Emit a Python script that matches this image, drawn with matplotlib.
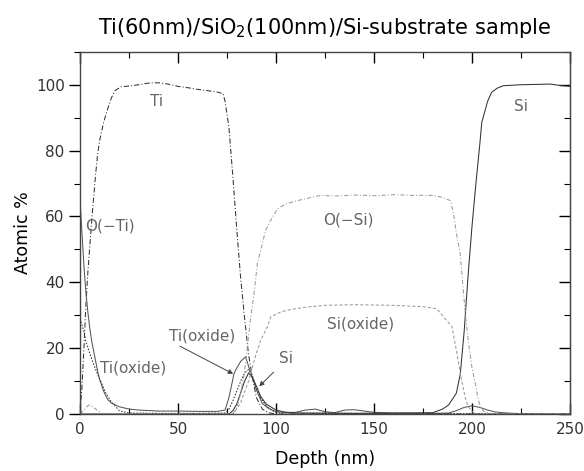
import numpy as np
import matplotlib
matplotlib.use("Agg")
import matplotlib.pyplot as plt
from matplotlib.ticker import MultipleLocator

plt.rcParams["font.family"] = ["DejaVu Sans"]

# depth profiles (depth in nm, atomic %)
ti_x = [0, 1, 2, 3, 4, 5, 6, 7, 8, 9, 10, 12, 14, 16, 18, 21, 25, 30, 35, 40, 45, 50, 55, 60, 65,
        70, 73, 74, 76, 78, 80, 82, 84, 86, 88, 90, 93, 96, 100, 250]
ti_y = [1, 8, 20, 33, 43, 51, 59, 66, 73, 79, 83, 88.5, 92.5, 96, 98.3, 99.4, 99.6, 100, 100.5,
        100.6, 100.2, 99.5, 99.1, 98.6, 98.2, 97.8, 97.3, 95, 87, 72, 56, 41, 29, 18, 11, 5,
        1.5, 0.4, 0, 0]

oti_x = [0, 1, 2, 3, 4, 5, 6, 7, 8, 9, 10, 12, 14, 16, 20, 25, 30, 40, 50, 60, 70, 74, 76, 78.6,
         80, 82, 84.5, 86, 88, 90, 93, 96, 100, 105, 110, 115, 120, 125, 130, 135, 140, 150, 160,
         170, 180, 188, 192, 196, 200, 204, 208, 212, 218, 225, 250]
oti_y = [65, 55, 45, 37, 31, 26, 22, 19, 16, 13, 10.5, 7, 4.5, 3.3, 2.2, 1.5, 1.2, 0.9, 0.9, 0.8,
         0.8, 1.2, 5, 12.3, 14, 16, 17.4, 14.5, 11, 7.3, 3.2, 1.8, 0.7, 0.5, 0.5, 1.2, 1.5, 0.7,
         0.4, 1.2, 1.3, 0.5, 0.3, 0.3, 0.2, 0.3, 1, 2, 2.5, 2, 1.2, 0.6, 0.3, 0.1, 0]

tiox_x = [0, 1, 2, 3, 5, 7, 9, 11, 13, 16, 20, 25, 40, 60, 74, 76, 78, 80, 82, 84, 86, 88, 90,
          92, 95, 98, 102, 250]
tiox_y = [29, 27, 25, 22, 18.4, 15, 12, 9.4, 6.5, 3.7, 1, 0.3, 0.2, 0.2, 0.3, 1.5, 4, 7, 10,
          12.5, 13.5, 11.5, 8, 5, 2.5, 1, 0.3, 0]

si_x = [0, 20, 60, 76, 78, 80, 82, 84, 86, 88, 90.5, 92, 95, 100, 105, 110,
        140, 170, 180, 185, 188, 192, 194, 196, 198, 200, 202, 204, 205, 208, 210, 213, 216, 225,
        240, 246, 250]
si_y = [0, 0, 0, 0, 1, 3, 6.5, 10, 12.5, 11, 7.8, 5.5, 3, 1.2, 0.5, 0.3,
        0.2, 0.3, 0.4, 1.5, 2.7, 6.3, 12, 25, 42, 57, 70, 82, 88.6, 95, 97.7, 99, 99.7, 100,
        100.2, 99.7, 99.5]

osi_x = [0, 2, 4, 5, 7, 9, 12, 78, 80, 82, 84, 85.4, 87, 88.8, 90.5, 92.2, 94.7, 97, 100.7, 105,
         110.8, 116, 122.7, 130, 140, 150, 160, 170, 179.6, 185, 189, 190.6, 192, 194, 195.7, 197,
         198.3, 200, 201.7, 203, 204.2, 206, 210, 250]
osi_y = [0, 1.2, 2.5, 2.8, 2, 1, 0, 0, 2, 6.3, 13, 20.4, 29, 36.6, 45.7, 49.7, 55.8, 58.5, 62.3,
         63.8, 64.8, 65.5, 66.4, 66.2, 66.5, 66.3, 66.6, 66.4, 66.4, 65.8, 64.8, 60.8, 55, 48.7,
         36.6, 28, 21.4, 14, 9.3, 5, 2.2, 0.8, 0, 0]

siox_x = [0, 78, 80, 82, 83.7, 86, 88, 90, 92.2, 95.6, 97.3, 100, 102.4, 108, 116, 125, 140, 160,
          175, 182, 185.5, 189.8, 192.3, 194, 195.7, 197, 198.2, 200, 202, 250]
siox_y = [0, 0, 1.5, 3.5, 6.3, 10, 14.3, 18.5, 22.4, 26.5, 29.5, 30.3, 31, 31.8, 32.5, 33, 33.2,
          33, 32.6, 32, 29.5, 26.5, 18.4, 12.5, 7.3, 4, 2.2, 0.8, 0, 0]

fig = plt.figure(figsize=(5.84, 4.71), dpi=100)
ax = fig.add_axes([0.137, 0.121, 0.839, 0.769])

lw = 0.75
ax.plot(ti_x, ti_y, color="#333333", lw=lw, ls=(0, (5, 2, 1, 2)))
ax.plot(oti_x, oti_y, color="#555555", lw=lw, ls="-")
ax.plot(tiox_x, tiox_y, color="#333333", lw=lw, ls=(0, (1.5, 1.5)))
ax.plot(si_x, si_y, color="#333333", lw=lw, ls="-")
ax.plot(osi_x, osi_y, color="#9a9a9a", lw=lw, ls=(0, (4, 2, 1, 2)))
ax.plot(siox_x, siox_y, color="#9a9a9a", lw=lw, ls=(0, (3, 2)))

lab = dict(color="#666666", fontsize=11, va="center")
ax.text(39, 95, "Ti", ha="center", **lab)
ax.text(2.5, 57, "O(−Ti)", ha="left", **lab)
ax.text(10, 14, "Ti(oxide)", ha="left", **lab)
ax.text(45.5, 23.6, "Ti(oxide)", ha="left", **lab)
ax.text(105, 16.8, "Si", ha="center", **lab)
ax.text(137, 58.8, "O(−Si)", ha="center", **lab)
ax.text(143, 27.4, "Si(oxide)", ha="center", **lab)
ax.text(225, 93.4, "Si", ha="center", **lab)

arrow = dict(arrowstyle="-|>", color="#444444", lw=0.7, mutation_scale=7)
ax.annotate("", xy=(79.4, 11.8), xytext=(49.7, 21), arrowprops=arrow)
ax.annotate("", xy=(90.4, 7.8), xytext=(99.8, 13.3), arrowprops=arrow)

ax.set_xlim(0, 250)
ax.set_ylim(0, 110)
ax.xaxis.set_major_locator(MultipleLocator(50))
ax.xaxis.set_minor_locator(MultipleLocator(25))
ax.yaxis.set_major_locator(MultipleLocator(20))
ax.yaxis.set_minor_locator(MultipleLocator(10))
ax.set_yticks(np.arange(0, 101, 20))

ax.tick_params(axis="x", which="both", direction="in", top=True, bottom=True,
               labelsize=11, labelcolor="#333333", pad=6)
ax.tick_params(axis="x", which="major", length=8, width=1)
ax.tick_params(axis="x", which="minor", length=4, width=0.8)
ax.tick_params(axis="y", which="both", direction="out", left=True, right=False,
               labelsize=11, labelcolor="#333333", pad=3)
ax.tick_params(axis="y", which="major", length=8, width=1)
ax.tick_params(axis="y", which="minor", length=4, width=0.8)

# inward ticks on the right spine
ay = ax.secondary_yaxis("right")
ay.yaxis.set_major_locator(MultipleLocator(20))
ay.yaxis.set_minor_locator(MultipleLocator(10))
ay.tick_params(which="both", direction="in", labelright=False)
ay.tick_params(which="major", length=8, width=1)
ay.tick_params(which="minor", length=4, width=0.8)

for s in ax.spines.values():
    s.set_color("#444444")
    s.set_linewidth(1.0)
ay.spines["right"].set_color("#444444")

ax.set_xlabel("Depth (nm)", fontsize=12.5, labelpad=9)
ax.set_ylabel("Atomic %", fontsize=12.5, labelpad=3)
ax.set_title("Ti(60nm)/SiO$_2$(100nm)/Si-substrate sample", fontsize=15, pad=13)

fig.savefig("out.png", dpi=100)
